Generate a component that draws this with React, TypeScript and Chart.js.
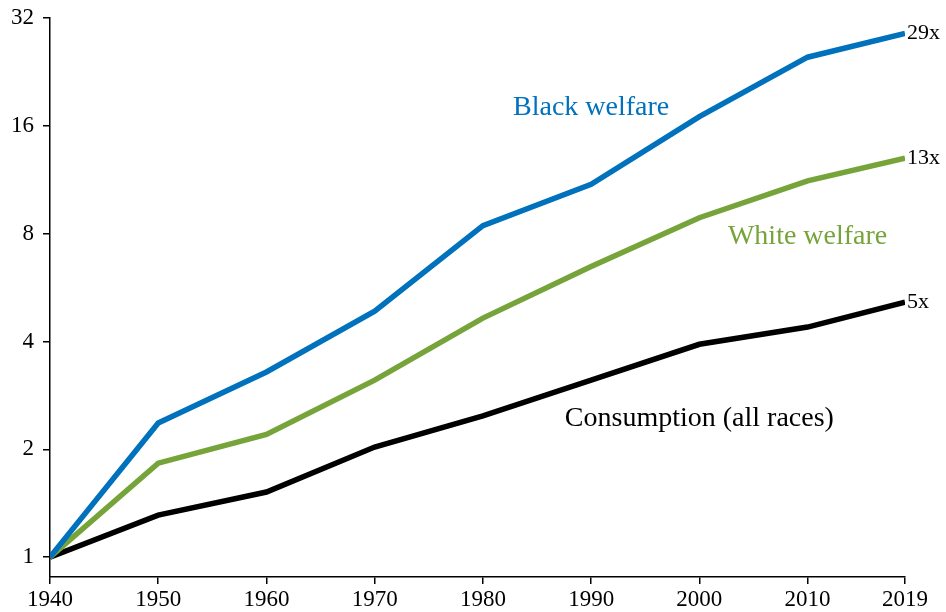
import React, { useEffect, useRef } from "react";
import { Chart, registerables } from "chart.js";

Chart.register(...registerables);

const years = [1940, 1950, 1960, 1970, 1980, 1990, 2000, 2010, 2019];
const blackWelfare = [1, 2.37, 3.29, 4.86, 8.43, 11.0, 17.0, 24.9, 29.0];
const whiteWelfare = [1, 1.83, 2.2, 3.12, 4.65, 6.48, 8.87, 11.24, 13.0];
const consumption = [1, 1.31, 1.52, 2.03, 2.48, 3.12, 3.93, 4.39, 5.15];
const yTicks = [1, 2, 4, 8, 16, 32];
const xTicks = [1940, 1950, 1960, 1970, 1980, 1990, 2000, 2010, 2019];
const endLabels = ["29x", "13x", "5x"];
const seriesNames = ["Black welfare", "White welfare", "Consumption (all races)"];
const seriesColors = ["#0071bc", "#77a43a", "#000000"];
// annotation anchor in data space: [year, value]
const labelAnchors: [number, number][] = [
  [1990, 18],
  [2010, 7.85],
  [2000, 2.43],
];

const FONT = "'Liberation Serif', 'DejaVu Serif', serif";

export default function App() {
  const ref = useRef<HTMLCanvasElement | null>(null);

  useEffect(() => {
    if (!ref.current) return;
    const series = [blackWelfare, whiteWelfare, consumption];

    const labelPlugin = {
      id: "labels",
      afterDatasetsDraw(chart: any) {
        const { ctx, scales } = chart;
        const xs = scales.x;
        const ys = scales.y;
        ctx.save();
        ctx.textBaseline = "middle";
        ctx.font = `22px ${FONT}`;
        ctx.fillStyle = "#000";
        ctx.textAlign = "left";
        series.forEach((s, i) => {
          const px = xs.getPixelForValue(years[years.length - 1]);
          const py = ys.getPixelForValue(s[s.length - 1]);
          ctx.fillText(endLabels[i], px + 2, py);
        });
        ctx.font = `28px ${FONT}`;
        ctx.textAlign = "center";
        seriesNames.forEach((n, i) => {
          const [ax, ay] = labelAnchors[i];
          ctx.fillStyle = seriesColors[i];
          ctx.fillText(n, xs.getPixelForValue(ax), ys.getPixelForValue(ay));
        });
        ctx.restore();
      },
    };

    const chart = new Chart(ref.current, {
      type: "line",
      data: {
        datasets: series.map((s, i) => ({
          label: seriesNames[i],
          data: s.map((v, j) => ({ x: years[j], y: v })),
          borderColor: seriesColors[i],
          backgroundColor: seriesColors[i],
          borderWidth: 5.5,
          pointRadius: 0,
          tension: 0,
          fill: false,
        })),
      },
      options: {
        animation: false,
        responsive: true,
        maintainAspectRatio: false,
        layout: { padding: { left: 0, right: 41, top: 16, bottom: 0 } },
        plugins: { legend: { display: false }, tooltip: { enabled: false } },
        scales: {
          x: {
            type: "linear",
            min: 1940,
            max: 2019,
            afterBuildTicks(scale: any) {
              scale.ticks = xTicks.map((v) => ({ value: v }));
            },
            afterFit(scale: any) {
              scale.height = 35;
            },
            ticks: {
              color: "#000",
              font: { family: FONT, size: 23 },
              padding: 2,
              maxRotation: 0,
              autoSkip: false,
              callback: (v: any) => String(v),
            },
            grid: {
              drawOnChartArea: false,
              drawTicks: true,
              tickLength: 7,
              color: "#000",
              lineWidth: 1.5,
            },
            border: { display: true, color: "#000", width: 1.5 },
          },
          y: {
            type: "logarithmic",
            min: 0.88,
            max: 32,
            afterBuildTicks(scale: any) {
              scale.ticks = yTicks.map((v) => ({ value: v }));
            },
            afterFit(scale: any) {
              scale.width = 50;
            },
            ticks: {
              color: "#000",
              font: { family: FONT, size: 23, lineHeight: 0.8 },
              padding: 9,
              autoSkip: false,
              callback: (v: any) => String(v),
            },
            grid: {
              drawOnChartArea: false,
              drawTicks: true,
              tickLength: 7,
              color: "#000",
              lineWidth: 1.5,
            },
            border: { display: true, color: "#000", width: 1.5 },
          },
        },
      },
      plugins: [labelPlugin],
    } as any);

    return () => chart.destroy();
  }, []);

  return (
    <div style={{ position: "fixed", left: 0, top: 0, width: 946, height: 612, background: "#fff" }}>
      <canvas ref={ref} />
    </div>
  );
}
